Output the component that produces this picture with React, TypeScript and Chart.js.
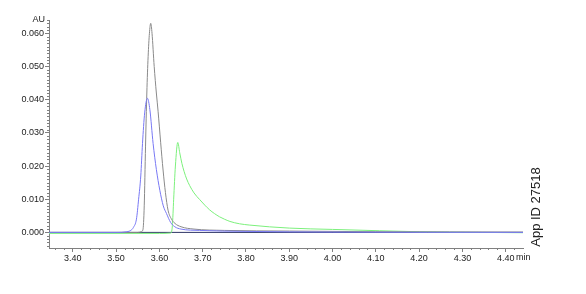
import React, { useEffect, useRef } from "react";
import { Chart, registerables } from "chart.js";

Chart.register(...registerables);

// ---- data (time in min, absorbance in AU) ----
const grayTimes = [3.345, 3.55, 3.558, 3.562, 3.565, 3.568, 3.571, 3.574, 3.577, 3.58, 3.583, 3.588, 3.593, 3.597, 3.603, 3.6085, 3.614, 3.62, 3.628, 3.636, 3.65, 3.68, 3.75, 3.9, 4.1, 4.44];
const grayValues = [0, 0, 0.0002, 0.0008, 0.008, 0.026, 0.042, 0.053, 0.06, 0.063, 0.06, 0.05, 0.042, 0.0365, 0.027, 0.0188, 0.012, 0.0067, 0.004, 0.0027, 0.0017, 0.001, 0.0006, 0.0004, 0.0002, 0.0001];

const blueTimes = [3.345, 3.5, 3.525, 3.535, 3.54, 3.547, 3.552, 3.557, 3.561, 3.566, 3.5725, 3.578, 3.5855, 3.593, 3.601, 3.609, 3.6164, 3.626, 3.6356, 3.65, 3.693, 3.8, 4.0, 4.44];
const blueValues = [0, 0, 0.0002, 0.0007, 0.0015, 0.004, 0.01, 0.017, 0.0268, 0.036, 0.0404, 0.037, 0.0268, 0.019, 0.0127, 0.008, 0.0057, 0.003, 0.0017, 0.001, 0.0006, 0.0003, 0.0001, 0];

const greenTimes = [3.345, 3.6, 3.626, 3.63, 3.633, 3.637, 3.6425, 3.647, 3.652, 3.657, 3.663, 3.67, 3.68, 3.693, 3.705, 3.716, 3.727, 3.739, 3.75, 3.763, 3.785, 3.809, 3.9, 4.0, 4.109, 4.2, 4.34, 4.44];
const greenValues = [-0.0003, -0.0003, -0.0002, 0.002, 0.01, 0.02, 0.0271, 0.024, 0.0208, 0.0184, 0.0161, 0.0141, 0.0119, 0.0099, 0.0082, 0.0068, 0.0057, 0.0047, 0.004, 0.0033, 0.0026, 0.0022, 0.0013, 0.0009, 0.0005, 0.0002, 0, -0.0001];

const baseTimes = [3.345, 4.44];
const baseValues = [0, 0];

const yTicks = [0, 0.01, 0.02, 0.03, 0.04, 0.05, 0.06];
const xTicks = [3.4, 3.5, 3.6, 3.7, 3.8, 3.9, 4.0, 4.1, 4.2, 4.3, 4.4];

const X_MIN = 3.345;
const X_MAX = 4.44;
const Y_MIN = -0.0047;
const Y_MAX = 0.064;

const FONT = "'Liberation Sans', Arial, sans-serif";

const toPoints = (t: number[], v: number[]) => t.map((x, i) => ({ x, y: v[i] }));

const extrasPlugin = {
  id: "extras",
  afterDraw(chart: any) {
    const ctx = chart.ctx;
    const xs = chart.scales.x;
    const ys = chart.scales.y;
    const area = chart.chartArea;
    ctx.save();
    ctx.strokeStyle = "#808080";
    ctx.lineWidth = 1;
    // minor y ticks
    for (let i = -4; i <= 64; i++) {
      if (i % 10 === 0) continue;
      const py = Math.round(ys.getPixelForValue(i / 1000)) + 0.5;
      if (py < area.top || py > area.bottom) continue;
      ctx.beginPath();
      ctx.moveTo(area.left - 2, py);
      ctx.lineTo(area.left, py);
      ctx.stroke();
    }
    // minor x ticks
    for (let i = 168; i <= 222; i++) {
      if (i % 5 === 0) continue;
      const px = Math.round(xs.getPixelForValue(i / 50)) + 0.5;
      if (px < area.left || px > area.right) continue;
      ctx.beginPath();
      ctx.moveTo(px, area.bottom);
      ctx.lineTo(px, area.bottom + 2);
      ctx.stroke();
    }
    ctx.fillStyle = "#222";
    ctx.font = `9px ${FONT}`;
    ctx.textAlign = "right";
    ctx.textBaseline = "middle";
    ctx.fillText("AU", area.left - 4, area.top);
    ctx.textAlign = "left";
    ctx.textBaseline = "top";
    const labelTop = area.bottom + 5;
    ctx.fillText("min", area.right - 7, labelTop);
    ctx.save();
    ctx.translate(536, 207);
    ctx.rotate(-Math.PI / 2);
    ctx.textAlign = "center";
    ctx.textBaseline = "middle";
    ctx.font = `13px ${FONT}`;
    ctx.fillText("App ID 27518", 0, 0);
    ctx.restore();
    ctx.restore();
  },
};

export default function App() {
  const ref = useRef<HTMLCanvasElement | null>(null);
  useEffect(() => {
    document.body.style.margin = "0";
    if (!ref.current) return;
    const line = (data: any, color: string, order: number) => ({
      data,
      borderColor: color,
      borderWidth: 1,
      pointRadius: 0,
      fill: false,
      cubicInterpolationMode: "monotone" as const,
      order,
    });
    const chart = new Chart(ref.current, {
      type: "line",
      data: {
        datasets: [
          line(toPoints(baseTimes, baseValues), "#2e3566", 4),
          line(toPoints(greenTimes, greenValues), "#7cf07c", 3),
          line(toPoints(grayTimes, grayValues), "#8a8a8a", 2),
          line(toPoints(blueTimes, blueValues), "#7878f4", 1),
        ],
      },
      options: {
        animation: false,
        responsive: false,
        parsing: false as any,
        layout: { padding: { top: 20, right: 63, left: 0, bottom: 0 } },
        plugins: { legend: { display: false }, tooltip: { enabled: false } },
        scales: {
          x: {
            type: "linear",
            min: X_MIN,
            max: X_MAX,
            afterBuildTicks: (s: any) => {
              s.ticks = xTicks.map((v) => ({ value: v }));
            },
            afterFit: (s: any) => {
              s.height = 46;
            },
            grid: { drawOnChartArea: false, tickLength: 4, color: "#808080" },
            border: { color: "#808080" },
            ticks: {
              autoSkip: false,
              maxRotation: 0,
              padding: 1,
              color: "#222",
              font: { family: FONT, size: 9 },
              callback: (v: any) => Number(v).toFixed(2),
            },
          },
          y: {
            type: "linear",
            min: Y_MIN,
            max: Y_MAX,
            afterBuildTicks: (s: any) => {
              s.ticks = yTicks.map((v) => ({ value: v }));
            },
            afterFit: (s: any) => {
              s.width = 49;
            },
            grid: { drawOnChartArea: false, tickLength: 4, color: "#808080" },
            border: { color: "#808080" },
            ticks: {
              autoSkip: false,
              padding: 1,
              color: "#222",
              font: { family: FONT, size: 9 },
              callback: (v: any) => Number(v).toFixed(3),
            },
          },
        },
      },
      plugins: [extrasPlugin],
    });
    return () => chart.destroy();
  }, []);
  return (
    <div style={{ width: 586, height: 294, background: "#fff" }}>
      <canvas ref={ref} width={586} height={294} />
    </div>
  );
}
